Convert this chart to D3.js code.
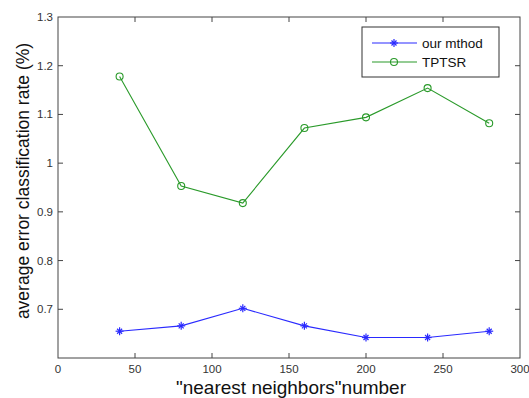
<!DOCTYPE html>
<html>
<head>
<meta charset="utf-8">
<script src="https://cdn.jsdelivr.net/npm/d3@7"></script>
<style>
  body { margin: 0; background: #fff; }
  text { font-family: "Liberation Sans", Arial, sans-serif; }
</style>
</head>
<body>
<svg id="chart" width="529" height="398"></svg>
<script>
const neighbors = [40, 80, 120, 160, 200, 240, 280];
const ourMethod = [0.655, 0.666, 0.702, 0.666, 0.642, 0.642, 0.655];
const tptsr = [1.178, 0.953, 0.918, 1.072, 1.094, 1.154, 1.082];
const xTicks = [0, 50, 100, 150, 200, 250, 300];
const yTicks = [0.7, 0.8, 0.9, 1, 1.1, 1.2, 1.3];

(function() {
const svg = d3.select('#chart');
const pLeft = 58, pRight = 520, pTop = 17, pBottom = 358;

const x = d3.scaleLinear().domain([0, 300]).range([pLeft, pRight]);
const y = d3.scaleLinear().domain([0.6, 1.3]).range([pBottom, pTop]);

// box
svg.append('rect')
  .attr('x', pLeft).attr('y', pTop)
  .attr('width', pRight - pLeft).attr('height', pBottom - pTop)
  .attr('fill', 'none').attr('stroke', '#444').attr('stroke-width', 1);

// ticks inside, all four sides
const tk = 5;
xTicks.slice(1, -1).forEach(v => {
  svg.append('line').attr('x1', x(v)).attr('x2', x(v)).attr('y1', pBottom).attr('y2', pBottom - tk).attr('stroke', '#444');
  svg.append('line').attr('x1', x(v)).attr('x2', x(v)).attr('y1', pTop).attr('y2', pTop + tk).attr('stroke', '#444');
});
yTicks.slice(0, -1).forEach(v => {
  svg.append('line').attr('x1', pLeft).attr('x2', pLeft + tk).attr('y1', y(v)).attr('y2', y(v)).attr('stroke', '#444');
  svg.append('line').attr('x1', pRight).attr('x2', pRight - tk).attr('y1', y(v)).attr('y2', y(v)).attr('stroke', '#444');
});

svg.selectAll('.xt').data(xTicks).enter().append('text')
  .attr('x', d => x(d)).attr('y', pBottom + 15)
  .attr('text-anchor', 'middle').attr('font-size', 11.5).attr('fill', '#333')
  .text(d => d);

svg.selectAll('.yt').data(yTicks).enter().append('text')
  .attr('x', pLeft - 5).attr('y', d => y(d) + 4)
  .attr('text-anchor', 'end').attr('font-size', 11.5).attr('fill', '#333')
  .text(d => d);

svg.append('text')
  .attr('x', 291).attr('y', 394)
  .attr('text-anchor', 'middle').attr('font-size', 19).attr('fill', '#111')
  .text('"nearest neighbors"number');

svg.append('text')
  .attr('transform', 'translate(29, 181) rotate(-90)')
  .attr('text-anchor', 'middle').attr('font-size', 17.5).attr('fill', '#111')
  .text('average error classification rate (%)');

const blue = '#2a2aff', green = '#2a9a2a';
const line = d3.line().x(d => x(d[0])).y(d => y(d[1]));

function star(g, cx, cy, color) {
  const s = 4;
  g.append('line').attr('x1', cx - s).attr('x2', cx + s).attr('y1', cy).attr('y2', cy).attr('stroke', color).attr('stroke-width', 1.2);
  g.append('line').attr('x1', cx).attr('x2', cx).attr('y1', cy - s).attr('y2', cy + s).attr('stroke', color).attr('stroke-width', 1.2);
  g.append('line').attr('x1', cx - 2.5).attr('x2', cx + 2.5).attr('y1', cy - 2.5).attr('y2', cy + 2.5).attr('stroke', color).attr('stroke-width', 1.2);
  g.append('line').attr('x1', cx - 2.5).attr('x2', cx + 2.5).attr('y1', cy + 2.5).attr('y2', cy - 2.5).attr('stroke', color).attr('stroke-width', 1.2);
}
function circ(g, cx, cy, color) {
  g.append('circle').attr('cx', cx).attr('cy', cy).attr('r', 3.5)
    .attr('fill', 'none').attr('stroke', color).attr('stroke-width', 1.1);
}

const blueData = neighbors.map((n, i) => [n, ourMethod[i]]);
const greenData = neighbors.map((n, i) => [n, tptsr[i]]);

svg.append('path').attr('d', line(blueData)).attr('fill', 'none').attr('stroke', blue).attr('stroke-width', 1.1);
svg.append('path').attr('d', line(greenData)).attr('fill', 'none').attr('stroke', green).attr('stroke-width', 1.1);
const mk = svg.append('g');
blueData.forEach(d => star(mk, x(d[0]), y(d[1]), blue));
greenData.forEach(d => circ(mk, x(d[0]), y(d[1]), green));

// legend
const lg = svg.append('g');
lg.append('rect').attr('x', 362).attr('y', 27).attr('width', 137).attr('height', 50)
  .attr('fill', '#fff').attr('stroke', '#333').attr('stroke-width', 1);
lg.append('line').attr('x1', 372).attr('x2', 417).attr('y1', 43).attr('y2', 43).attr('stroke', blue).attr('stroke-width', 1.1);
star(lg, 394, 43, blue);
lg.append('line').attr('x1', 372).attr('x2', 417).attr('y1', 62).attr('y2', 62).attr('stroke', green).attr('stroke-width', 1.1);
circ(lg, 394, 62, green);
lg.append('text').attr('x', 422).attr('y', 48).attr('font-size', 13.5).attr('fill', '#111').text('our mthod');
lg.append('text').attr('x', 422).attr('y', 67).attr('font-size', 13.5).attr('fill', '#111').text('TPTSR');
})();
</script>
</body>
</html>
